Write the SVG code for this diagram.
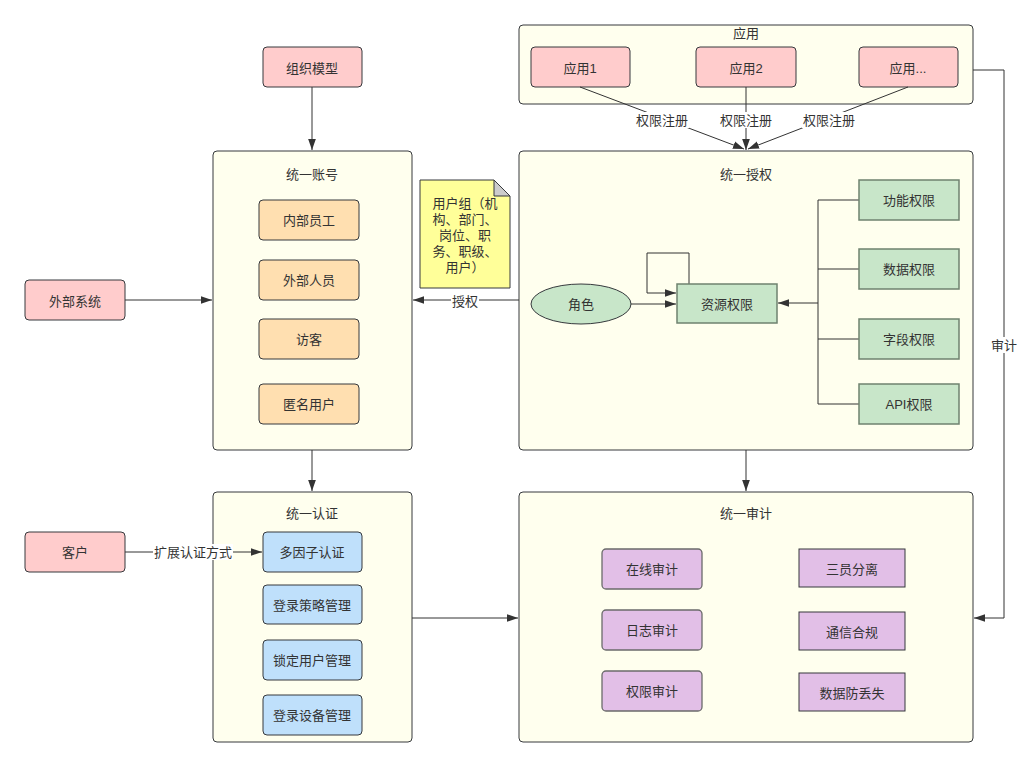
<svg xmlns="http://www.w3.org/2000/svg" width="1031" height="767" viewBox="0 0 1031 767">
<defs>
<style>
text{font-family:"Liberation Sans","Noto Sans CJK SC",sans-serif;font-size:13px;fill:#333;text-anchor:middle;dominant-baseline:central}
.c{fill:#ffffee;stroke:#36393d;stroke-width:1}
.pk{fill:#ffcccc;stroke:#36393d}
.or{fill:#ffdfb0;stroke:#36393d}
.gr{fill:#c8e6c9;stroke:#6f826f;stroke-width:1.5}
.bl{fill:#bfe0fb;stroke:#36393d}
.pu{fill:#e2bfe7;stroke:#6b6b6b;stroke-width:1.3}
.pus{fill:#e2bfe7;stroke:#36393d}
.ln{fill:none;stroke:#333;stroke-width:1}
.lb{fill:#fff}
.lbc{fill:#ffffee}
</style>
<marker id="a" viewBox="0 0 10 10" refX="10" refY="5" markerWidth="11" markerHeight="11" markerUnits="userSpaceOnUse" orient="auto"><path d="M0,1.5 L10,5 L0,8.5 Z" fill="#333"/></marker>
</defs>
<rect width="1031" height="767" fill="#fff"/>

<g id="app">
<rect class="c" x="519" y="25" width="454" height="79" rx="4"/>
<text x="746" y="33">应用</text>
</g>
<g id="app1"><rect class="pk" x="531" y="47" width="99" height="40" rx="4"/><text x="580" y="68">应用1</text></g>
<g id="app2"><rect class="pk" x="696" y="47" width="100" height="40" rx="4"/><text x="746" y="68">应用2</text></g>
<g id="app3"><rect class="pk" x="859" y="47" width="99" height="40" rx="4"/><text x="908" y="68">应用...</text></g>

<g id="auth">
<rect class="c" x="519" y="151" width="454" height="299" rx="4"/>
<text x="746" y="174">统一授权</text>
</g>
<g id="account">
<rect class="c" x="213" y="151" width="199" height="299" rx="4"/>
<text x="312" y="174">统一账号</text>
</g>
<g id="authn">
<rect class="c" x="213" y="492" width="199" height="250" rx="4"/>
<text x="312" y="513">统一认证</text>
</g>
<g id="audit">
<rect class="c" x="519" y="492" width="454" height="250" rx="4"/>
<text x="746" y="513">统一审计</text>
</g>

<g id="connectors">
<path class="ln" d="M580,87 L744,149" marker-end="url(#a)"/>
<path class="ln" d="M746,87 L746,150" marker-end="url(#a)"/>
<path class="ln" d="M908,87 L748,149" marker-end="url(#a)"/>
<rect class="lb" x="635" y="112" width="54" height="16"/>
<rect class="lb" x="719" y="112" width="54" height="16"/>
<rect class="lb" x="802" y="112" width="54" height="16"/>
<text x="662" y="120">权限注册</text>
<text x="746" y="120">权限注册</text>
<text x="829" y="120">权限注册</text>
<path class="ln" d="M312,87 L312,150" marker-end="url(#a)"/>
<path class="ln" d="M125,300 L212,300" marker-end="url(#a)"/>
<path class="ln" d="M519,300 L413,300" marker-end="url(#a)"/>
<rect class="lb" x="451" y="292" width="28" height="16"/>
<text x="465" y="301">授权</text>
<path class="ln" d="M312,450 L312,491" marker-end="url(#a)"/>
<path class="ln" d="M746,450 L746,491" marker-end="url(#a)"/>
<path class="ln" d="M412,618 L518,618" marker-end="url(#a)"/>
<path class="ln" d="M125,552 L262,552" marker-end="url(#a)"/>
<rect class="lb" x="153" y="544" width="80" height="16"/>
<text x="193" y="552">扩展认证方式</text>
<path class="ln" d="M973,70 L1004,70 L1004,618 L974,618" marker-end="url(#a)"/>
<rect class="lb" x="990" y="337" width="28" height="16"/>
<text x="1004" y="345">审计</text>
<path class="ln" d="M631,304 L676,304" marker-end="url(#a)"/>
<path class="ln" d="M689,284 L689,253 L647,253 L647,293 L676,293" marker-end="url(#a)"/>
<path class="ln" d="M859,200 L818,200 L818,404 L859,404 M818,269 L859,269 M818,339 L859,339"/>
<path class="ln" d="M818,303 L778,303" marker-end="url(#a)"/>
</g>

<g id="org"><rect class="pk" x="263" y="47" width="99" height="40" rx="4"/><text x="312" y="68">组织模型</text></g>
<g id="ext"><rect class="pk" x="25" y="280" width="100" height="40" rx="4"/><text x="75" y="301">外部系统</text></g>
<g id="cust"><rect class="pk" x="25" y="532" width="100" height="40" rx="4"/><text x="75" y="552">客户</text></g>

<g id="emp"><rect class="or" x="259" y="200" width="100" height="40" rx="4"/><text x="309" y="220">内部员工</text></g>
<g id="outsider"><rect class="or" x="259" y="260" width="100" height="40" rx="4"/><text x="309" y="280">外部人员</text></g>
<g id="visitor"><rect class="or" x="259" y="319" width="100" height="40" rx="4"/><text x="309" y="339">访客</text></g>
<g id="anon"><rect class="or" x="259" y="384" width="100" height="40" rx="4"/><text x="309" y="404">匿名用户</text></g>

<g id="note">
<path d="M420,180 L494,180 L510,196 L510,288 L420,288 Z" fill="#ffff99" stroke="#36393d"/>
<path d="M494,180 L494,196 L510,196 Z" fill="#ccc" stroke="#36393d"/>
<text x="465" y="203">用户组（机</text>
<text x="465" y="219">构、部门、</text>
<text x="465" y="235">岗位、职</text>
<text x="465" y="251">务、职级、</text>
<text x="465" y="267">用户）</text>
</g>

<g id="role"><ellipse cx="581" cy="304" rx="50" ry="20" fill="#c8e6c9" stroke="#36393d"/><text x="581" y="304">角色</text></g>
<g id="res"><rect class="gr" x="677" y="284" width="100" height="39"/><text x="727" y="304">资源权限</text></g>
<g id="func"><rect class="gr" x="859" y="180" width="100" height="40"/><text x="909" y="200">功能权限</text></g>
<g id="data"><rect class="gr" x="859" y="249" width="100" height="40"/><text x="909" y="269">数据权限</text></g>
<g id="field"><rect class="gr" x="859" y="319" width="100" height="40"/><text x="909" y="339">字段权限</text></g>
<g id="api"><rect class="gr" x="859" y="384" width="100" height="40"/><text x="909" y="404">API权限</text></g>

<g id="mfa"><rect class="bl" x="263" y="532" width="99" height="40" rx="4"/><text x="312" y="552">多因子认证</text></g>
<g id="loginpolicy"><rect class="bl" x="263" y="585" width="99" height="39" rx="4"/><text x="312" y="605">登录策略管理</text></g>
<g id="lockuser"><rect class="bl" x="263" y="640" width="99" height="40" rx="4"/><text x="312" y="660">锁定用户管理</text></g>
<g id="device"><rect class="bl" x="263" y="695" width="99" height="40" rx="4"/><text x="312" y="715">登录设备管理</text></g>

<g id="online"><rect class="pu" x="602" y="549" width="100" height="40" rx="4"/><text x="652" y="569">在线审计</text></g>
<g id="log"><rect class="pu" x="602" y="610" width="100" height="40" rx="4"/><text x="652" y="630">日志审计</text></g>
<g id="permaudit"><rect class="pu" x="602" y="671" width="100" height="40" rx="4"/><text x="652" y="691">权限审计</text></g>
<g id="sep"><rect class="pus" x="799" y="549" width="106" height="38"/><text x="852" y="569">三员分离</text></g>
<g id="comm"><rect class="pus" x="799" y="612" width="106" height="38"/><text x="852" y="632">通信合规</text></g>
<g id="dlp"><rect class="pus" x="799" y="673" width="106" height="38"/><text x="852" y="693">数据防丢失</text></g>
</svg>
